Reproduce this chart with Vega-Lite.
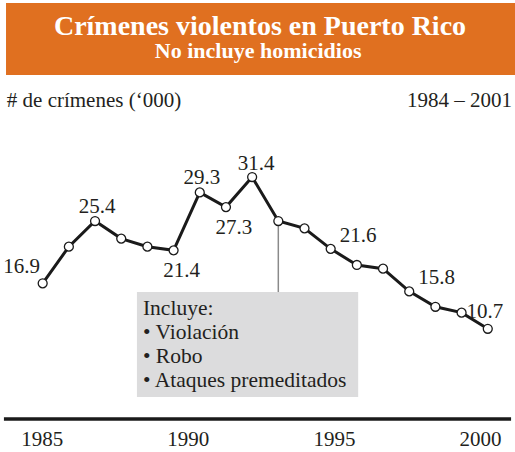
{
  "$schema": "https://vega.github.io/schema/vega-lite/v6.json",
  "padding": 0,
  "spacing": 0,
  "bounds": "flush",
  "background": "white",
  "config": {"view": {"stroke": null}, "font": "Liberation Serif"},
  "data": {"values": [
    {"year": 1984, "value": 16.9},
    {"year": 1985, "value": 21.9},
    {"year": 1986, "value": 25.4},
    {"year": 1987, "value": 23.0},
    {"year": 1988, "value": 21.9},
    {"year": 1989, "value": 21.4},
    {"year": 1990, "value": 29.3},
    {"year": 1991, "value": 27.3},
    {"year": 1992, "value": 31.4},
    {"year": 1993, "value": 25.4},
    {"year": 1994, "value": 24.4},
    {"year": 1995, "value": 21.6},
    {"year": 1996, "value": 19.4},
    {"year": 1997, "value": 18.9},
    {"year": 1998, "value": 15.8},
    {"year": 1999, "value": 13.7},
    {"year": 2000, "value": 12.9},
    {"year": 2001, "value": 10.7}
  ]},
  "vconcat": [
    {
      "width": 515,
      "height": 419,
      "layer": [
        {
          "data": {"values": [{}]},
          "mark": {"type": "rect", "color": "#e07020"},
          "encoding": {
            "x": {"datum": 1982.6, "type": "quantitative", "scale": {"domain": [1982.37, 2002.04], "nice": false, "zero": false}, "axis": null},
            "x2": {"datum": 2002.04},
            "y": {"datum": 55.14, "type": "quantitative", "scale": {"domain": [-1.61, 55.55], "nice": false, "zero": false}, "axis": null},
            "y2": {"datum": 45.32}
          }
        },
        {
          "data": {"values": [{}]},
          "mark": {"type": "text", "text": "Crímenes violentos en Puerto Rico", "font": "Liberation Serif", "fontSize": 28, "fontWeight": "bold", "color": "white", "align": "center", "baseline": "alphabetic"},
          "encoding": {
            "x": {"datum": 1992.3, "type": "quantitative", "scale": {"domain": [1982.37, 2002.04], "nice": false, "zero": false}, "axis": null},
            "y": {"datum": 50.73, "type": "quantitative", "scale": {"domain": [-1.61, 55.55], "nice": false, "zero": false}, "axis": null}
          }
        },
        {
          "data": {"values": [{}]},
          "mark": {"type": "text", "text": "No incluye homicidios", "font": "Liberation Serif", "fontSize": 22, "fontWeight": "bold", "color": "white", "align": "center", "baseline": "alphabetic"},
          "encoding": {
            "x": {"datum": 1992.23, "type": "quantitative", "scale": {"domain": [1982.37, 2002.04], "nice": false, "zero": false}, "axis": null},
            "y": {"datum": 47.68, "type": "quantitative", "scale": {"domain": [-1.61, 55.55], "nice": false, "zero": false}, "axis": null}
          }
        },
        {
          "data": {"values": [{}]},
          "mark": {"type": "text", "text": "# de crímenes (‘000)", "font": "Liberation Serif", "fontSize": 21, "color": "#231f20", "align": "left", "baseline": "alphabetic"},
          "encoding": {
            "x": {"datum": 1982.63, "type": "quantitative", "scale": {"domain": [1982.37, 2002.04], "nice": false, "zero": false}, "axis": null},
            "y": {"datum": 40.91, "type": "quantitative", "scale": {"domain": [-1.61, 55.55], "nice": false, "zero": false}, "axis": null}
          }
        },
        {
          "data": {"values": [{}]},
          "mark": {"type": "text", "text": "1984 – 2001", "font": "Liberation Serif", "fontSize": 21, "color": "#231f20", "align": "right", "baseline": "alphabetic"},
          "encoding": {
            "x": {"datum": 2001.93, "type": "quantitative", "scale": {"domain": [1982.37, 2002.04], "nice": false, "zero": false}, "axis": null},
            "y": {"datum": 40.91, "type": "quantitative", "scale": {"domain": [-1.61, 55.55], "nice": false, "zero": false}, "axis": null}
          }
        },
        {
          "data": {"values": [{}]},
          "mark": {"type": "rect", "color": "#dcdcdd"},
          "encoding": {
            "x": {"datum": 1987.6, "type": "quantitative", "scale": {"domain": [1982.37, 2002.04], "nice": false, "zero": false}, "axis": null},
            "x2": {"datum": 1996.05},
            "y": {"datum": 15.71, "type": "quantitative", "scale": {"domain": [-1.61, 55.55], "nice": false, "zero": false}, "axis": null},
            "y2": {"datum": 1.39}
          }
        },
        {
          "data": {"values": [{}]},
          "mark": {"type": "rule", "color": "#8a8a8a", "strokeWidth": 1.5},
          "encoding": {
            "x": {"datum": 1993, "type": "quantitative", "scale": {"domain": [1982.37, 2002.04], "nice": false, "zero": false}, "axis": null},
            "y": {"datum": 25.4, "type": "quantitative", "scale": {"domain": [-1.61, 55.55], "nice": false, "zero": false}, "axis": null},
            "y2": {"datum": 15.71}
          }
        },
        {
          "data": {"values": [{}]},
          "mark": {"type": "text", "text": ["Incluye:", "• Violación", "• Robo", "• Ataques premeditados"], "lineHeight": 24, "font": "Liberation Serif", "fontSize": 21.5, "color": "#231f20", "align": "left", "baseline": "alphabetic"},
          "encoding": {
            "x": {"datum": 1987.83, "type": "quantitative", "scale": {"domain": [1982.37, 2002.04], "nice": false, "zero": false}, "axis": null},
            "y": {"datum": 12.58, "type": "quantitative", "scale": {"domain": [-1.61, 55.55], "nice": false, "zero": false}, "axis": null}
          }
        },
        {
          "data": {"values": [{}]},
          "mark": {"type": "rule", "color": "#1a1a1a", "strokeWidth": 3.3},
          "encoding": {
            "x": {"datum": 1982.52, "type": "quantitative", "scale": {"domain": [1982.37, 2002.04], "nice": false, "zero": false}, "axis": null},
            "x2": {"datum": 2001.89},
            "y": {"datum": -1.61, "type": "quantitative", "scale": {"domain": [-1.61, 55.55], "nice": false, "zero": false}, "axis": null}
          }
        },
        {
          "encoding": {
            "x": {"field": "year", "type": "quantitative", "scale": {"domain": [1982.37, 2002.04], "nice": false, "zero": false}, "axis": null},
            "y": {"field": "value", "type": "quantitative", "scale": {"domain": [-1.61, 55.55], "nice": false, "zero": false}, "axis": null}
          },
          "layer": [
            {
              "mark": {"type": "line", "color": "#1a1a1a", "strokeWidth": 3}
            },
            {
              "mark": {"type": "circle", "fill": "white", "stroke": "#1a1a1a", "strokeWidth": 1.3, "size": 80, "opacity": 1, "fillOpacity": 1}
            },
            {
              "transform": [{"filter": {"field": "year", "oneOf": [1986, 1990]}}],
              "mark": {"type": "text", "font": "Liberation Serif", "fontSize": 21, "color": "#231f20", "align": "center", "baseline": "alphabetic", "dx": 2, "dy": -8},
              "encoding": {"text": {"field": "value", "type": "quantitative", "format": ".1f"}}
            },
            {
              "transform": [{"filter": {"field": "year", "oneOf": [1992]}}],
              "mark": {"type": "text", "font": "Liberation Serif", "fontSize": 21, "color": "#231f20", "align": "center", "baseline": "alphabetic", "dx": 4, "dy": -7},
              "encoding": {"text": {"field": "value", "type": "quantitative", "format": ".1f"}}
            },
            {
              "transform": [{"filter": {"field": "year", "oneOf": [2001]}}],
              "mark": {"type": "text", "font": "Liberation Serif", "fontSize": 21, "color": "#231f20", "align": "center", "baseline": "alphabetic", "dx": -3, "dy": -11},
              "encoding": {"text": {"field": "value", "type": "quantitative", "format": ".1f"}}
            },
            {
              "transform": [{"filter": {"field": "year", "oneOf": [1989, 1991]}}],
              "mark": {"type": "text", "font": "Liberation Serif", "fontSize": 21, "color": "#231f20", "align": "center", "baseline": "alphabetic", "dx": 8, "dy": 27},
              "encoding": {"text": {"field": "value", "type": "quantitative", "format": ".1f"}}
            },
            {
              "transform": [{"filter": {"field": "year", "oneOf": [1995, 1998]}}],
              "mark": {"type": "text", "font": "Liberation Serif", "fontSize": 21, "color": "#231f20", "align": "left", "baseline": "alphabetic", "dx": 9, "dy": -7},
              "encoding": {"text": {"field": "value", "type": "quantitative", "format": ".1f"}}
            },
            {
              "transform": [{"filter": {"field": "year", "oneOf": [1984]}}],
              "mark": {"type": "text", "font": "Liberation Serif", "fontSize": 21, "color": "#231f20", "align": "center", "baseline": "alphabetic", "dx": -21, "dy": -10},
              "encoding": {"text": {"field": "value", "type": "quantitative", "format": ".1f"}}
            }
          ]
        }
      ]
    },
    {
      "width": 515,
      "height": 1,
      "mark": {"type": "point", "opacity": 0},
      "encoding": {
        "x": {
          "field": "year", "type": "quantitative",
          "scale": {"domain": [1983.573, 2001.198], "nice": false, "zero": false},
          "axis": {"values": [1985, 1990, 1995, 2000], "format": "d", "domain": false, "ticks": false, "tickSize": 0, "grid": false, "labelFont": "Liberation Serif", "labelFontSize": 21, "labelColor": "#231f20", "labelPadding": 25, "labelBaseline": "alphabetic", "labelFlush": false, "labelOverlap": false, "title": null, "orient": "bottom"}
        }
      }
    }
  ]
}
